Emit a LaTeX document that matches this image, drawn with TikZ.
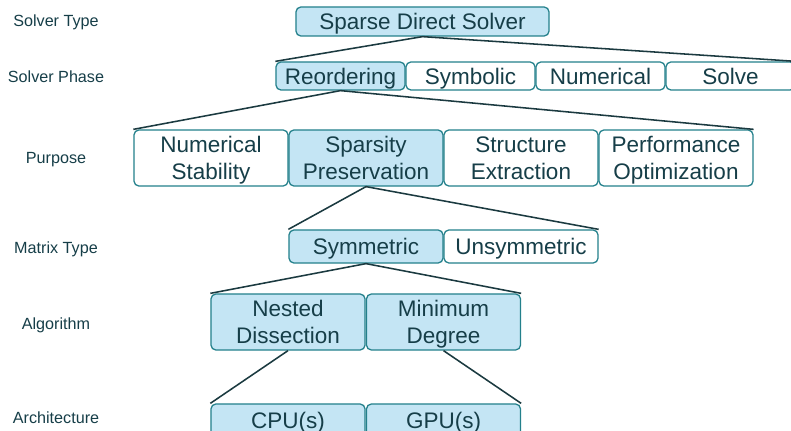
\documentclass[tikz,border=0pt]{standalone}
\usepackage{fontspec}
\setmainfont{Liberation Sans}
\definecolor{boxline}{HTML}{23808B}
\definecolor{boxfill}{HTML}{C4E5F4}
\definecolor{txt}{HTML}{163E48}
\definecolor{edgecol}{HTML}{1B3A40}
\begin{document}
\begin{tikzpicture}[x=0.025cm, y=-0.025cm,
    box/.style={draw=boxline, line width=0.9pt, rounded corners=3.5pt, inner sep=0pt,
        text=txt, font=\fontsize{16}{19.2}\selectfont, align=center, fill=white,
        text depth=0pt},
    sel/.style={fill=boxfill},
    phase/.style={box, minimum width=3.225cm, minimum height=0.7cm, text height=11.5pt},
    tall/.style={box, minimum width=3.85cm, minimum height=1.4cm},
    short/.style={box, minimum width=3.85cm, minimum height=0.825cm, text height=11.5pt},
    rowlab/.style={text=txt, font=\fontsize{11.5}{14}\selectfont, text height=8.3pt, text depth=0pt},
    link/.style={draw=edgecol, line width=1.1pt}]
		\useasboundingbox (0,0) rectangle (791,431);
		\clip (0,0) rectangle (791,431);

		% row labels
		\node[rowlab] (ltype) at (56,21) {Solver Type};
		\node[rowlab] (lphase) at (56,77) {Solver Phase};
		\node[rowlab] (lpurp) at (56,158) {Purpose};
		\node[rowlab] (lmat) at (56,248) {Matrix Type};
		\node[rowlab] (lalg) at (56,324) {Algorithm};
		\node[rowlab] (larch) at (56,418) {Architecture};

		% boxes
		\node[box, sel, minimum width=6.325cm, minimum height=0.725cm, text height=11.5pt] (sds) at (422.5,21.5) {Sparse Direct Solver};

		\node[phase, sel] (reord) at (340.5,76) {Reordering};
		\node[phase] (symb) at (470.5,76) {Symbolic};
		\node[phase] (numer) at (600.5,76) {Numerical};
		\node[phase] (solve) at (730.5,76) {Solve};

		\node[tall] (stab) at (211,158) {Numerical\\Stability};
		\node[tall, sel] (spars) at (366,158) {Sparsity\\Preservation};
		\node[tall] (struct) at (521,158) {Structure\\Extraction};
		\node[tall] (perf) at (676,158) {Performance\\Optimization};

		\node[short, sel] (sym) at (366,246.5) {Symmetric};
		\node[short] (unsym) at (521,246.5) {Unsymmetric};

		\node[tall, sel] (nested) at (288,322) {Nested\\Dissection};
		\node[tall, sel] (mindeg) at (443.5,322) {Minimum\\Degree};

		\node[short, sel] (cpu) at (288,420.5) {CPU(s)};
		\node[short, sel] (gpu) at (443.5,420.5) {GPU(s)};

		% links
		\draw[link] (reord.north west) -- (sds.south) -- (solve.north east);
		\draw[link] (stab.north west) -- (reord.south) -- (perf.north east);
		\draw[link] (sym.north west) -- (spars.south) -- (unsym.north east);
		\draw[link] (nested.north west) -- (sym.south) -- (mindeg.north east);
		\draw[link] (nested.south) -- (cpu.north west);
		\draw[link] (mindeg.south) -- (gpu.north east);
\end{tikzpicture}
\end{document}
